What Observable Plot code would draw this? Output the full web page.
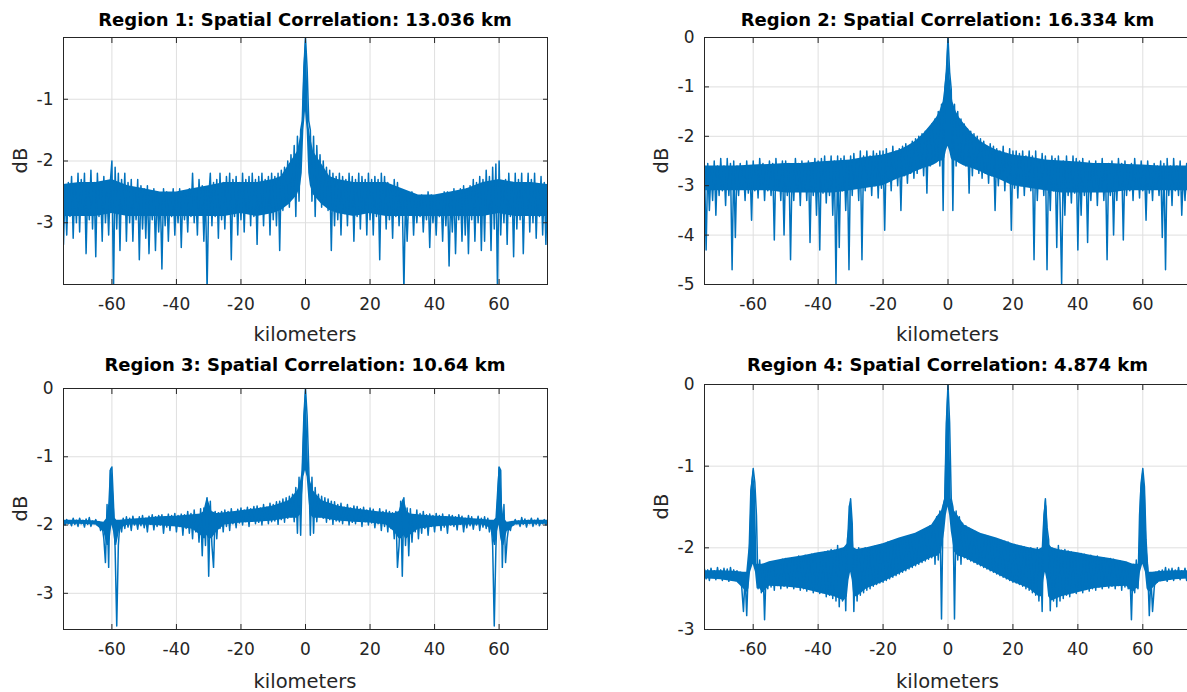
<!DOCTYPE html>
<html><head><meta charset="utf-8">
<script src="https://cdn.jsdelivr.net/npm/d3@7"></script>
<script src="https://cdn.jsdelivr.net/npm/@observablehq/plot@0.6"></script>
<style>
html,body{margin:0;padding:0;overflow:hidden;background:#fff;width:1187px;height:692px}
#root{position:relative;width:1187px;height:692px;overflow:hidden;font-family:"DejaVu Sans",Arial,Helvetica,sans-serif}
.panel{position:absolute}
</style></head><body><div id="root"></div>
<script>
// ---- data ----
const kmStart = -75, kmStep = 0.5;          // sample grid of every trace (kilometers)
const xTicks = [-60, -40, -20, 0, 20, 40, 60];
const titles = [
  "Region 1: Spatial Correlation: 13.036 km",
  "Region 2: Spatial Correlation: 16.334 km",
  "Region 3: Spatial Correlation: 10.64 km",
  "Region 4: Spatial Correlation: 4.874 km"
];
const yTicks1 = [-3, -2, -1];
const yTicks2 = [-5, -4, -3, -2, -1, 0];
const yTicks3 = [-3, -2, -1, 0];
const yTicks4 = [-3, -2, -1, 0];

// sampled traces (dB), one value per 0.5 km from -75 to 75
const region1 = [
-3.35,-2.45,-3.2,-2.35,-2.9,-2.25,-3.25,-2.4,-3.0,-2.2,
-3.15,-2.3,-2.85,-2.2,-3.5,-2.4,-2.95,-2.15,-3.1,-2.35,
-3.55,-2.2,-2.9,-2.45,-3.3,-2.25,-3.0,-2.5,-3.2,-2.35,
-2.0,-4.1,-2.1,-3.1,-2.2,-3.45,-2.3,-2.85,-2.2,-3.3,
-2.35,-3.0,-2.3,-3.3,-2.45,-2.95,-2.3,-3.6,-2.4,-3.1,
-2.45,-3.25,-2.4,-3.5,-2.5,-2.95,-2.45,-3.45,-2.5,-3.15,
-2.55,-3.75,-2.45,-3.05,-2.5,-3.3,-2.55,-2.9,-2.45,-3.2,
-2.55,-3.0,-2.45,-3.4,-2.5,-2.95,-2.55,-3.15,-2.45,-2.9,
-2.2,-3.0,-2.5,-3.2,-2.3,-2.85,-2.4,-3.3,-2.45,-4.1,
-2.6,-2.2,-3.05,-2.35,-2.9,-2.3,-3.25,-2.2,-2.95,-2.35,
-3.1,-2.25,-2.85,-2.2,-3.6,-2.3,-2.9,-2.25,-3.2,-2.35,
-2.95,-2.2,-3.15,-2.3,-2.8,-2.25,-3.05,-2.2,-2.9,-2.3,
-3.35,-2.25,-2.85,-2.2,-3.05,-2.3,-2.8,-2.25,-3.2,-2.2,
-2.95,-2.25,-3.05,-2.2,-3.45,-2.15,-2.8,-2.1,-2.7,-2.0,
-2.75,-1.9,-2.6,-1.75,-2.9,-1.6,-2.65,-1.5,-1.35,-0.5,
0,
-0.5,-1.35,-1.5,-2.65,-1.6,-2.9,-1.75,-2.6,-1.9,-2.75,
-2.0,-2.7,-2.1,-2.8,-2.15,-3.45,-2.2,-3.05,-2.25,-2.95,
-2.2,-3.2,-2.25,-2.85,-2.3,-3.05,-2.2,-2.8,-2.25,-3.3,
-2.3,-2.9,-2.2,-3.1,-2.25,-2.8,-2.3,-3.2,-2.2,-2.95,
-2.3,-3.2,-2.25,-2.9,-2.3,-3.6,-2.2,-2.85,-2.25,-3.1,
-2.35,-2.95,-2.4,-3.25,-2.3,-2.9,-2.35,-3.05,-2.5,-2.65,
-4.1,-2.55,-3.3,-2.6,-2.85,-2.5,-3.2,-2.55,-3.0,-2.6,
-2.9,-2.55,-3.15,-2.6,-2.95,-2.5,-3.4,-2.55,-3.0,-2.6,
-3.2,-2.55,-2.9,-2.55,-3.3,-2.5,-3.05,-2.5,-3.7,-2.55,
-3.15,-2.45,-3.5,-2.5,-2.95,-2.45,-3.3,-2.4,-3.2,-2.45,
-3.5,-2.4,-2.95,-2.3,-3.3,-2.35,-3.0,-2.25,-3.45,-2.3,
-3.3,-2.15,-2.85,-2.25,-3.45,-2.1,-3.1,-2.05,-4.1,-2.0,
-3.2,-2.4,-3.0,-2.3,-3.35,-2.2,-2.9,-2.35,-3.55,-2.2,
-3.1,-2.3,-2.95,-2.2,-3.5,-2.45,-2.85,-2.2,-3.15,-2.3,
-3.0,-2.2,-3.25,-2.4,-2.9,-2.25,-3.2,-2.35,-3.35,-2.45
];
const region2 = [
-2.6,-4.3,-2.55,-3.5,-2.7,-3.3,-2.5,-3.6,-2.6,-3.2,
-2.45,-3.1,-2.6,-3.4,-2.45,-3.2,-2.55,-4.7,-2.5,-4.05,
-2.6,-3.2,-2.55,-3.05,-2.65,-3.3,-2.5,-3.15,-2.6,-3.7,
-2.5,-3.1,-2.6,-3.25,-2.45,-3.0,-2.55,-3.3,-2.6,-3.1,
-2.5,-3.2,-2.55,-4.1,-2.45,-3.05,-2.6,-3.3,-2.5,-4.0,
-2.5,-3.2,-2.55,-4.5,-2.6,-3.3,-2.45,-3.05,-2.55,-3.4,
-2.5,-3.1,-2.6,-3.3,-2.5,-4.15,-2.55,-3.2,-2.45,-3.6,
-2.5,-4.3,-2.45,-3.15,-2.4,-3.35,-2.55,-3.2,-2.4,-3.6,
-2.5,-5.0,-2.4,-4.25,-2.45,-3.1,-2.4,-3.5,-2.5,-4.7,
-2.4,-3.2,-2.35,-3.0,-2.5,-3.3,-2.3,-4.5,-2.4,-3.1,
-2.3,-2.95,-2.4,-3.2,-2.3,-3.0,-2.35,-3.25,-2.3,-3.05,
-2.3,-3.9,-2.25,-2.9,-2.35,-3.1,-2.2,-2.85,-2.3,-3.0,
-2.25,-3.5,-2.2,-2.8,-2.15,-2.95,-2.2,-2.75,-2.1,-2.85,
-2.05,-2.75,-2.0,-2.65,-1.95,-2.8,-1.9,-3.15,-1.85,-2.6,
-1.75,-2.55,-1.65,-2.5,-1.5,-2.6,-1.35,-3.5,-1.05,-0.7,
0,
-0.7,-1.05,-3.5,-1.35,-2.6,-1.5,-2.5,-1.65,-2.55,-1.75,
-2.6,-1.85,-3.15,-1.9,-2.8,-1.95,-2.65,-2.0,-2.75,-2.05,
-2.85,-2.1,-2.75,-2.2,-2.95,-2.15,-2.8,-2.2,-3.5,-2.25,
-3.0,-2.3,-2.85,-2.2,-3.1,-2.35,-2.9,-2.25,-3.9,-2.3,
-3.05,-2.3,-3.25,-2.35,-3.0,-2.3,-3.2,-2.4,-2.95,-2.3,
-3.1,-2.4,-4.5,-2.3,-3.3,-2.5,-3.0,-2.35,-3.2,-2.4,
-4.7,-2.5,-3.5,-2.4,-3.1,-2.45,-4.25,-2.4,-3.3,-5.0,
-2.5,-3.6,-2.4,-3.2,-2.55,-3.35,-2.4,-3.15,-2.45,-4.3,
-2.5,-3.6,-2.45,-3.2,-2.55,-4.15,-2.5,-3.3,-2.6,-3.1,
-2.5,-3.4,-2.55,-3.05,-2.45,-3.3,-2.6,-4.5,-2.55,-3.2,
-2.5,-4.0,-2.6,-3.3,-2.45,-3.05,-2.55,-4.1,-2.5,-3.2,
-2.6,-3.1,-2.55,-3.3,-2.45,-3.0,-2.6,-3.25,-2.5,-3.1,
-2.6,-3.7,-2.5,-3.15,-2.65,-3.3,-2.55,-3.05,-2.6,-3.2,
-2.5,-4.05,-2.55,-4.7,-2.45,-3.2,-2.6,-3.4,-2.45,-3.1,
-2.6,-3.2,-2.5,-3.6,-2.7,-3.3,-2.55,-3.5,-2.6,-4.3
];
const region3 = [
-1.93,-2.0,-1.92,-1.98,-1.95,-2.01,-1.9,-1.99,-1.93,-2.02,
-1.9,-1.98,-1.93,-2.03,-1.91,-1.99,-1.89,-2.02,-1.94,-1.98,
-1.92,-2.0,-1.95,-2.08,-2.02,-2.2,-2.55,-1.7,-2.62,-1.2,
-1.15,-1.7,-2.35,-3.48,-2.3,-1.95,-2.1,-1.9,-2.05,-1.88,
-2.03,-1.9,-2.08,-1.87,-2.0,-1.92,-2.06,-1.88,-2.01,-1.86,
-2.04,-1.9,-2.1,-1.87,-1.99,-1.85,-2.07,-1.88,-2.02,-1.86,
-2.0,-1.85,-2.12,-1.88,-2.03,-1.84,-2.08,-1.86,-2.0,-1.83,
-2.1,-1.86,-2.02,-1.84,-2.15,-1.85,-2.05,-1.8,-2.12,-1.83,
-2.2,-1.78,-2.1,-1.85,-2.25,-1.76,-2.45,-1.75,-2.3,-1.6,
-2.75,-1.65,-2.3,-2.62,-1.8,-2.2,-1.82,-2.05,-1.8,-2.1,
-1.78,-2.02,-1.8,-2.08,-1.76,-1.98,-1.82,-2.04,-1.77,-1.97,
-1.75,-2.0,-1.78,-1.95,-1.74,-2.02,-1.76,-1.94,-1.73,-1.98,
-1.72,-1.96,-1.75,-2.0,-1.7,-1.93,-1.74,-1.98,-1.68,-1.95,
-1.7,-1.94,-1.66,-1.99,-1.65,-1.92,-1.62,-1.96,-1.6,-1.9,
-1.58,-1.88,-1.55,-1.95,-1.45,-2.12,-1.3,-2.15,-1.15,-0.4,
0,
-0.4,-1.15,-2.15,-1.3,-2.12,-1.45,-1.95,-1.55,-1.88,-1.58,
-1.9,-1.6,-1.96,-1.62,-1.92,-1.65,-1.99,-1.66,-1.94,-1.7,
-1.95,-1.68,-1.98,-1.74,-1.93,-1.7,-2.0,-1.75,-1.96,-1.72,
-1.98,-1.73,-1.94,-1.76,-2.02,-1.74,-1.95,-1.78,-2.0,-1.75,
-1.97,-1.77,-2.04,-1.82,-1.98,-1.76,-2.08,-1.8,-2.02,-1.78,
-2.1,-1.8,-2.05,-1.82,-2.2,-1.8,-2.62,-2.3,-1.65,-2.75,
-1.6,-2.3,-1.75,-2.45,-1.76,-2.25,-1.85,-2.1,-1.78,-2.2,
-1.83,-2.12,-1.8,-2.05,-1.85,-2.15,-1.84,-2.02,-1.86,-2.1,
-1.83,-2.0,-1.86,-2.08,-1.84,-2.03,-1.88,-2.12,-1.85,-2.0,
-1.86,-2.02,-1.88,-2.07,-1.85,-1.99,-1.87,-2.1,-1.9,-2.04,
-1.86,-2.01,-1.88,-2.06,-1.92,-2.0,-1.87,-2.08,-1.9,-2.03,
-1.88,-2.05,-1.9,-2.1,-1.95,-2.3,-3.48,-2.35,-1.7,-1.15,
-1.2,-2.62,-1.7,-2.55,-2.2,-2.02,-2.08,-1.95,-2.0,-1.92,
-1.98,-1.94,-2.02,-1.89,-1.99,-1.91,-2.03,-1.93,-1.98,-1.9,
-2.02,-1.93,-1.99,-1.9,-2.01,-1.95,-1.98,-1.92,-2.0,-1.93
];
const region4 = [
-2.26,-2.38,-2.27,-2.4,-2.25,-2.36,-2.28,-2.39,-2.24,-2.37,
-2.27,-2.4,-2.25,-2.38,-2.26,-2.41,-2.24,-2.37,-2.27,-2.4,
-2.28,-2.42,-2.3,-2.5,-2.78,-2.35,-2.83,-2.25,-1.9,-1.25,
-1.03,-1.2,-1.6,-2.5,-2.15,-2.55,-2.2,-2.88,-2.25,-2.5,
-2.18,-2.48,-2.2,-2.52,-2.16,-2.46,-2.17,-2.5,-2.14,-2.47,
-2.13,-2.49,-2.15,-2.46,-2.12,-2.5,-2.13,-2.48,-2.1,-2.52,
-2.11,-2.5,-2.09,-2.53,-2.1,-2.51,-2.08,-2.55,-2.07,-2.52,
-2.07,-2.56,-2.06,-2.55,-2.05,-2.6,-2.04,-2.58,-2.02,-2.62,
-2.03,-2.65,-1.97,-2.72,-2.02,-2.65,-2.0,-2.77,-1.9,-1.75,
-1.4,-1.7,-2.78,-2.05,-2.65,-2.0,-2.58,-2.02,-2.55,-2.0,
-2.52,-2.0,-2.5,-1.99,-2.47,-1.98,-2.45,-1.97,-2.43,-1.96,
-2.42,-1.95,-2.4,-1.93,-2.38,-1.92,-2.36,-1.91,-2.34,-1.9,
-2.32,-1.89,-2.3,-1.88,-2.28,-1.86,-2.26,-1.85,-2.24,-1.84,
-2.22,-1.82,-2.2,-1.8,-2.18,-1.78,-2.16,-1.76,-2.14,-1.73,
-2.12,-1.7,-2.2,-1.62,-2.15,-1.55,-2.87,-1.5,-1.4,-0.47,
0,
-0.47,-1.4,-1.5,-2.87,-1.55,-2.15,-1.62,-2.2,-1.7,-2.12,
-1.73,-2.14,-1.76,-2.16,-1.78,-2.18,-1.8,-2.2,-1.82,-2.22,
-1.84,-2.24,-1.85,-2.26,-1.86,-2.28,-1.88,-2.3,-1.89,-2.32,
-1.9,-2.34,-1.91,-2.36,-1.92,-2.38,-1.93,-2.4,-1.95,-2.42,
-1.96,-2.43,-1.97,-2.45,-1.98,-2.47,-1.99,-2.5,-2.0,-2.52,
-2.0,-2.55,-2.02,-2.58,-2.0,-2.65,-2.05,-2.78,-1.7,-1.4,
-1.75,-1.9,-2.77,-2.0,-2.65,-2.02,-2.72,-1.97,-2.65,-2.03,
-2.62,-2.02,-2.58,-2.04,-2.6,-2.05,-2.55,-2.06,-2.56,-2.07,
-2.52,-2.07,-2.55,-2.08,-2.51,-2.1,-2.53,-2.09,-2.5,-2.11,
-2.52,-2.1,-2.48,-2.13,-2.5,-2.12,-2.46,-2.15,-2.49,-2.13,
-2.47,-2.14,-2.5,-2.17,-2.46,-2.16,-2.52,-2.2,-2.48,-2.18,
-2.5,-2.25,-2.88,-2.2,-2.55,-2.15,-2.5,-1.6,-1.2,-1.03,
-1.25,-1.9,-2.25,-2.83,-2.35,-2.78,-2.5,-2.3,-2.42,-2.28,
-2.4,-2.27,-2.37,-2.24,-2.41,-2.26,-2.38,-2.25,-2.4,-2.27,
-2.37,-2.24,-2.39,-2.28,-2.36,-2.25,-2.4,-2.27,-2.38,-2.26
];

// dense (solid-looking) core of each trace: km, top dB, bottom dB
const core1Km  = [-75,-70,-65,-60,-55,-50,-45,-40,-35,-30,-25,-20,-15,-10,-7.5,-5,-2.5,-1.5,-1,-0.5,0,0.5,1,1.5,2.5,5,7.5,10,15,20,25,30,35,40,45,50,55,60,65,70,75];
const core1Top = [-2.38,-2.35,-2.35,-2.3,-2.4,-2.45,-2.5,-2.5,-2.45,-2.4,-2.35,-2.35,-2.35,-2.3,-2.25,-2.05,-1.85,-1.6,-1.4,-0.5,0,-0.5,-1.4,-1.6,-1.85,-2.05,-2.25,-2.3,-2.35,-2.35,-2.35,-2.45,-2.55,-2.55,-2.5,-2.45,-2.35,-2.3,-2.35,-2.35,-2.38];
const core1Bot = [-2.9,-2.9,-2.9,-2.85,-2.9,-2.9,-2.9,-2.9,-2.9,-2.9,-2.9,-2.85,-2.9,-2.85,-2.8,-2.7,-2.55,-2.4,-2.2,-1.5,-1.2,-1.5,-2.2,-2.4,-2.55,-2.7,-2.8,-2.85,-2.9,-2.85,-2.9,-2.9,-2.9,-2.9,-2.9,-2.9,-2.9,-2.85,-2.9,-2.9,-2.9];

const core2Km  = [-75,-70,-65,-60,-55,-50,-45,-40,-35,-30,-25,-20,-15,-12.5,-10,-7.5,-5,-3.5,-2.5,-1.5,-1,-0.5,0,0.5,1,1.5,2.5,3.5,5,7.5,10,12.5,15,20,25,30,35,40,45,50,55,60,65,70,75];
const core2Top = [-2.6,-2.6,-2.6,-2.58,-2.57,-2.55,-2.55,-2.52,-2.5,-2.48,-2.42,-2.38,-2.28,-2.2,-2.1,-1.95,-1.75,-1.62,-1.5,-1.3,-1.05,-0.7,0,-0.7,-1.05,-1.3,-1.5,-1.62,-1.75,-1.95,-2.1,-2.2,-2.28,-2.38,-2.42,-2.48,-2.5,-2.52,-2.55,-2.55,-2.57,-2.58,-2.6,-2.6,-2.6];
const core2Bot = [-3.1,-3.1,-3.1,-3.1,-3.1,-3.15,-3.15,-3.15,-3.15,-3.1,-3.05,-3.0,-2.85,-2.8,-2.72,-2.65,-2.6,-2.55,-2.5,-2.5,-2.45,-2.3,-2.2,-2.3,-2.45,-2.5,-2.5,-2.55,-2.6,-2.65,-2.72,-2.8,-2.85,-3.0,-3.05,-3.1,-3.15,-3.15,-3.15,-3.15,-3.1,-3.1,-3.1,-3.1,-3.1];

const core3Km  = [-75,-70,-65,-62.5,-61.5,-61,-60.5,-60,-59.5,-59,-58.5,-57.5,-55,-50,-45,-40,-35,-32.5,-31.5,-31,-30.5,-30,-29,-27.5,-25,-20,-15,-10,-5,-2.5,-1.5,-1,-0.5,0,0.5,1,1.5,2.5,5,10,15,20,25,27.5,29,30,30.5,31,31.5,32.5,35,40,45,50,55,57.5,58.5,59,59.5,60,60.5,61,61.5,62.5,65,70,75];
const core3Top = [-1.93,-1.93,-1.94,-1.96,-1.9,-1.7,-1.2,-1.15,-1.5,-1.9,-1.93,-1.93,-1.92,-1.9,-1.88,-1.87,-1.85,-1.84,-1.8,-1.7,-1.6,-1.65,-1.8,-1.83,-1.82,-1.79,-1.76,-1.72,-1.64,-1.5,-1.35,-1.2,-0.45,0,-0.45,-1.2,-1.35,-1.5,-1.64,-1.72,-1.76,-1.79,-1.82,-1.83,-1.8,-1.65,-1.6,-1.7,-1.8,-1.84,-1.85,-1.87,-1.88,-1.9,-1.92,-1.93,-1.93,-1.9,-1.5,-1.15,-1.2,-1.7,-1.9,-1.96,-1.94,-1.93,-1.93];
const core3Bot = [-1.99,-1.99,-2.0,-2.1,-2.3,-2.3,-2.2,-2.0,-2.1,-2.3,-2.3,-2.05,-2.0,-2.0,-2.01,-2.03,-2.06,-2.15,-2.2,-2.2,-2.15,-2.2,-2.2,-2.1,-2.0,-1.97,-1.96,-1.94,-1.9,-1.9,-1.85,-1.6,-1.3,-1.2,-1.3,-1.6,-1.85,-1.9,-1.9,-1.94,-1.96,-1.97,-2.0,-2.1,-2.2,-2.2,-2.15,-2.2,-2.2,-2.15,-2.06,-2.03,-2.01,-2.0,-2.0,-2.05,-2.3,-2.3,-2.1,-2.0,-2.2,-2.3,-2.3,-2.1,-2.0,-1.99,-1.99];

const core4Km  = [-75,-70,-65,-63,-62,-61.3,-60.8,-60,-59.3,-58.8,-58,-57,-55,-50,-45,-40,-35,-32,-31,-30.5,-30,-29.5,-29,-28,-25,-20,-15,-10,-5,-3,-2,-1,-0.5,0,0.5,1,2,3,5,10,15,20,25,28,29,29.5,30,30.5,31,32,35,40,45,50,55,57,58,58.8,59.3,60,60.8,61.3,62,63,65,70,75];
const core4Top = [-2.28,-2.28,-2.29,-2.3,-2.3,-2.0,-1.3,-1.05,-1.3,-2.2,-2.2,-2.2,-2.17,-2.13,-2.1,-2.06,-2.03,-2.0,-1.95,-1.5,-1.42,-1.6,-2.0,-2.02,-2.0,-1.95,-1.88,-1.82,-1.72,-1.6,-1.55,-1.4,-0.47,0,-0.47,-1.4,-1.55,-1.6,-1.72,-1.82,-1.88,-1.95,-2.0,-2.02,-2.0,-1.6,-1.42,-1.5,-1.95,-2.0,-2.03,-2.06,-2.1,-2.13,-2.17,-2.2,-2.2,-2.2,-1.3,-1.05,-1.3,-2.0,-2.3,-2.3,-2.29,-2.28,-2.28];
const core4Bot = [-2.38,-2.39,-2.42,-2.5,-2.55,-2.5,-2.3,-2.2,-2.3,-2.5,-2.5,-2.55,-2.47,-2.48,-2.5,-2.55,-2.6,-2.65,-2.6,-2.4,-2.3,-2.4,-2.6,-2.6,-2.5,-2.42,-2.32,-2.22,-2.12,-2.1,-2.05,-1.8,-1.6,-1.5,-1.6,-1.8,-2.05,-2.1,-2.12,-2.22,-2.32,-2.42,-2.5,-2.6,-2.6,-2.4,-2.3,-2.4,-2.6,-2.65,-2.6,-2.55,-2.5,-2.48,-2.47,-2.55,-2.5,-2.5,-2.3,-2.2,-2.3,-2.5,-2.55,-2.5,-2.42,-2.39,-2.38];

// ---- layout ----
const FONT = '"DejaVu Sans", Arial, Helvetica, sans-serif';
const INK = "#262626";
const BLUE = "#0072BD";
const panels = [
  {values: region1, cKm: core1Km, cTop: core1Top, cBot: core1Bot, title: titles[0], yDomain: [-4, 0],    yTicks: yTicks1, left: 0,   top: 0,   width: 590, height: 345, mL: 63,  mR: 43, mT: 37, mB: 61},
  {values: region2, cKm: core2Km, cTop: core2Top, cBot: core2Bot, title: titles[1], yDomain: [-5, 0],    yTicks: yTicks2, left: 590, top: 0,   width: 640, height: 345, mL: 114, mR: 39, mT: 37, mB: 61},
  {values: region3, cKm: core3Km, cTop: core3Top, cBot: core3Bot, title: titles[2], yDomain: [-3.53, 0], yTicks: yTicks3, left: 0,   top: 345, width: 590, height: 347, mL: 63,  mR: 43, mT: 43, mB: 63},
  {values: region4, cKm: core4Km, cTop: core4Top, cBot: core4Bot, title: titles[3], yDomain: [-3, 0],    yTicks: yTicks4, left: 590, top: 345, width: 640, height: 347, mL: 114, mR: 39, mT: 39, mB: 63}
];

const root = document.getElementById("root");
const fmt = d => String(d);

for (const p of panels) {
  if (p.values.length !== 301) throw new Error("bad length " + p.values.length + " in " + p.title);
  if (p.cKm.length !== p.cTop.length || p.cKm.length !== p.cBot.length)
    throw new Error("core length mismatch in " + p.title + ": " + [p.cKm.length, p.cTop.length, p.cBot.length]);
  const data = p.values.map((v, i) => ({km: kmStart + i * kmStep, dB: v}));
  const core = p.cKm.map((k, i) => ({km: k, top: p.cTop[i], bot: p.cBot[i]}));
  const chart = Plot.plot({
    width: p.width, height: p.height,
    marginLeft: p.mL, marginRight: p.mR, marginTop: p.mT, marginBottom: p.mB,
    style: {fontFamily: FONT, fontSize: "17px", color: INK, background: "transparent", overflow: "visible"},
    x: {domain: [-75, 75]},
    y: {domain: p.yDomain},
    marks: [
      Plot.gridX(xTicks, {stroke: "#dfdfdf", strokeOpacity: 1, strokeWidth: 1}),
      Plot.gridY(p.yTicks, {stroke: "#dfdfdf", strokeOpacity: 1, strokeWidth: 1}),
      Plot.areaY(core, {x: "km", y1: "bot", y2: "top", fill: BLUE, clip: true}),
      Plot.lineY(data, {x: "km", y: "dB", stroke: BLUE, strokeWidth: 1.5, clip: true}),
      Plot.frame({stroke: INK, strokeWidth: 1}),
      Plot.axisX(xTicks, {anchor: "bottom", tickSize: 0, tickPadding: 13, tickFormat: fmt, label: null, fill: INK, fontSize: 17}),
      Plot.axisX(xTicks, {anchor: "bottom", tickSize: -5, fill: "none", label: null, stroke: INK}),
      Plot.axisX(xTicks, {anchor: "top", tickSize: -5, fill: "none", label: null, stroke: INK}),
      Plot.axisY(p.yTicks, {anchor: "left", tickSize: 0, tickPadding: 10, tickFormat: fmt, label: null, fill: INK, fontSize: 17}),
      Plot.axisY(p.yTicks, {anchor: "left", tickSize: -5, fill: "none", label: null, stroke: INK}),
      Plot.axisY(p.yTicks, {anchor: "right", tickSize: -5, fill: "none", label: null, stroke: INK})
    ]
  });
  chart.classList.add("panel");
  chart.style.left = p.left + "px";
  chart.style.top = p.top + "px";
  root.appendChild(chart);

  // titles and axis labels as real text
  const ov = d3.select(root).append("svg").attr("class", "panel")
    .style("left", p.left + "px").style("top", p.top + "px")
    .attr("width", p.width).attr("height", p.height)
    .style("overflow", "visible").style("font-family", FONT);
  const cx = p.mL + (p.width - p.mL - p.mR) / 2;
  ov.append("text").attr("x", cx).attr("y", 26).attr("text-anchor", "middle")
    .attr("font-weight", "bold").attr("font-size", 18).attr("fill", "#000").text(p.title);
  ov.append("text").attr("x", cx).attr("y", p.height - 4).attr("text-anchor", "middle")
    .attr("font-size", 19.5).attr("fill", INK).text("kilometers");
  const cy = p.mT + (p.height - p.mT - p.mB) / 2;
  ov.append("text").attr("transform", `translate(${p.mL - 36},${cy}) rotate(-90)`)
    .attr("text-anchor", "middle").attr("font-size", 19.5).attr("fill", INK).text("dB");
}
</script></body></html>
